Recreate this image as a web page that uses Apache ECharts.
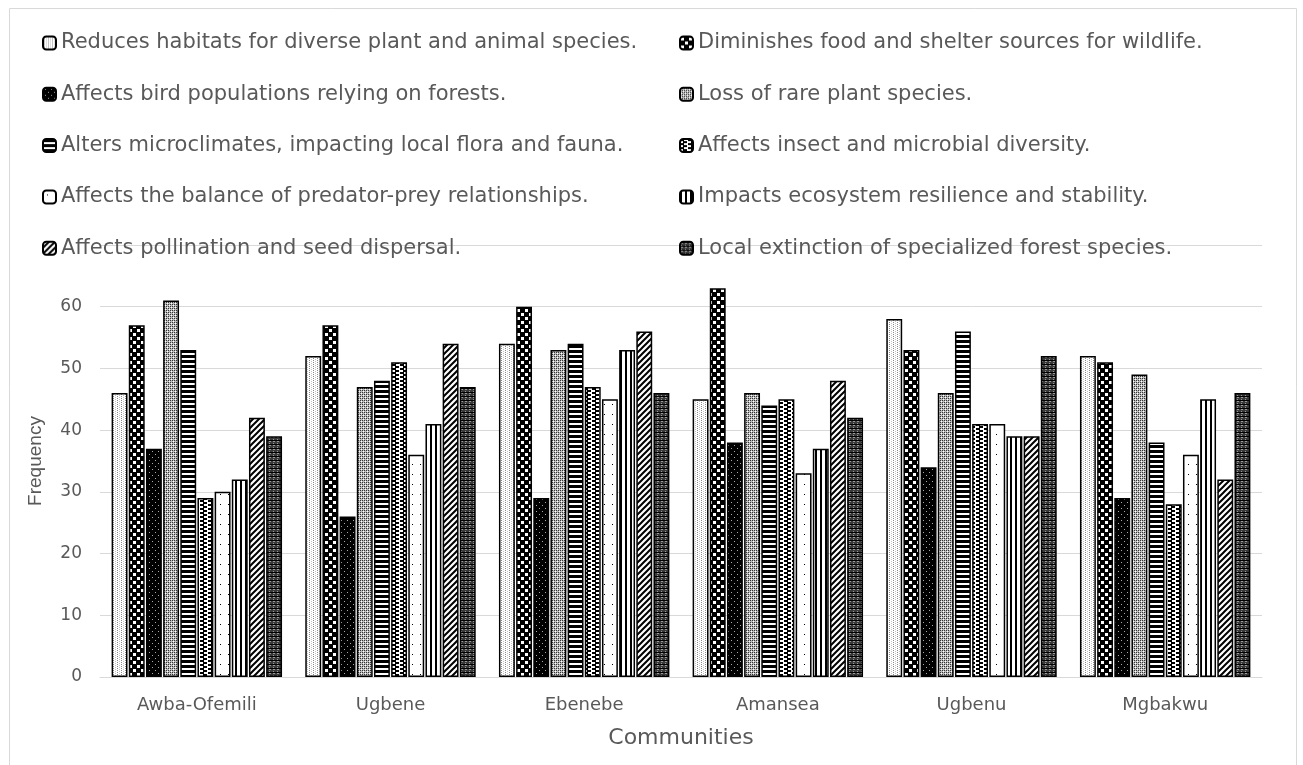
<!DOCTYPE html>
<html>
<head>
<meta charset="utf-8">
<script src="https://cdn.jsdelivr.net/npm/echarts@6/dist/echarts.min.js"></script>
<style>
html,body{margin:0;padding:0;background:#fff;}
#chart{width:1303px;height:765px;}
</style>
</head>
<body>
<div id="chart"></div>
<script>
// ---- data ----
const communities = ['Awba-Ofemili', 'Ugbene', 'Ebenebe', 'Amansea', 'Ugbenu', 'Mgbakwu'];
const seriesNames = [
  'Reduces habitats for diverse plant and animal species.',
  'Diminishes food and shelter sources for wildlife.',
  'Affects bird populations relying on forests.',
  'Loss of rare plant species.',
  'Alters microclimates, impacting local flora and fauna.',
  'Affects insect and microbial diversity.',
  'Affects the balance of predator-prey relationships.',
  'Impacts ecosystem resilience and stability.',
  'Affects pollination and seed dispersal.',
  'Local extinction of specialized forest species.'
];
const reducesHabitats   = [46, 52, 54, 45, 58, 52];
const diminishesFood    = [57, 57, 60, 63, 53, 51];
const birdPopulations   = [37, 26, 29, 38, 34, 29];
const rarePlants        = [61, 47, 53, 46, 46, 49];
const microclimates     = [53, 48, 54, 44, 56, 38];
const insectDiversity   = [29, 51, 47, 45, 41, 28];
const predatorPrey      = [30, 36, 45, 33, 41, 36];
const resilience        = [32, 41, 53, 37, 39, 45];
const pollination       = [42, 54, 56, 48, 39, 32];
const localExtinction   = [39, 47, 46, 42, 52, 46];
const yTicks = [0, 10, 20, 30, 40, 50, 60, 70];

const seriesValues = [reducesHabitats, diminishesFood, birdPopulations, rarePlants, microclimates,
  insectDiversity, predatorPrey, resilience, pollination, localExtinction];

// ---- fill patterns (styling only) ----
function pat(w, h, bg, draw) {
  const c = document.createElement('canvas');
  c.width = w; c.height = h;
  const g = c.getContext('2d');
  g.fillStyle = bg; g.fillRect(0, 0, w, h);
  g.fillStyle = '#000';
  draw(g);
  return { image: c, repeat: 'repeat' };
}
const patterns = [
  // 1 light dotted vertical lines
  pat(4, 4, '#ffffff', g => { g.fillStyle = '#8a8a8a'; g.fillRect(1, 0, 1, 1); g.fillRect(1, 2, 1, 1); g.fillStyle = '#c4c4c4'; g.fillRect(3, 1, 1, 1); g.fillRect(3, 3, 1, 1); }),
  // 2 large checker
  pat(8, 8, '#000000', g => { g.fillStyle = '#fff'; g.fillRect(1, 1, 3, 3); g.fillRect(5, 5, 3, 3); }),
  // 3 dark with small dots
  pat(6, 6, '#000000', g => { g.fillStyle = '#aaa'; g.fillRect(2, 1, 1, 1); g.fillRect(5, 4, 1, 1); }),
  // 4 medium grey texture
  pat(4, 4, '#bdbdbd', g => { g.fillStyle = '#333'; g.fillRect(0, 0, 1, 1); g.fillRect(2, 2, 1, 1); g.fillRect(2, 0, 1, 1); g.fillRect(0, 2, 1, 1); g.fillStyle = '#fff'; g.fillRect(1, 1, 1, 1); g.fillRect(3, 3, 1, 1); }),
  // 5 horizontal stripes
  pat(4, 5, '#ffffff', g => { g.fillRect(0, 0, 4, 3); }),
  // 6 zigzag
  pat(8, 8, '#ffffff', g => { g.fillRect(0, 0, 4, 2); g.fillRect(3, 2, 4, 2); g.fillRect(0, 4, 4, 2); g.fillRect(3, 6, 4, 2); }),
  // 7 white with sparse dots
  pat(8, 10, '#ffffff', g => { g.fillRect(4, 4, 1, 1); }),
  // 8 vertical stripes
  pat(5, 4, '#ffffff', g => { g.fillRect(0, 0, 2, 4); }),
  // 9 diagonal stripes
  pat(6, 6, '#ffffff', g => {
    g.strokeStyle = '#000'; g.lineWidth = 2;
    g.beginPath();
    g.moveTo(-1, 7); g.lineTo(7, -1);
    g.moveTo(-4, 4); g.lineTo(4, -4);
    g.moveTo(2, 10); g.lineTo(10, 2);
    g.stroke();
  }),
  // 10 dark mesh
  pat(4, 4, '#3a3a3a', g => { g.fillStyle = '#9a9a9a'; g.fillRect(1, 1, 2, 1); g.fillRect(1, 3, 1, 1); g.fillStyle = '#000'; g.fillRect(0, 0, 4, 1); })
];

const series = seriesNames.map((name, i) => ({
  name: name,
  type: 'bar',
  data: seriesValues[i],
  barGap: '8%',
  barCategoryGap: '12%',
  itemStyle: { color: patterns[i], borderColor: '#000', borderWidth: 1.5 },
  emphasis: { disabled: true }
}));

const legendText = { color: '#595959', fontSize: 21, fontFamily: 'DejaVu Sans', lineHeight: 22 };
const chart = echarts.init(document.getElementById('chart'), null, { renderer: 'canvas' });
chart.setOption({
  animation: false,
  backgroundColor: '#ffffff',
  textStyle: { fontFamily: 'DejaVu Sans' },
  graphic: [{
    type: 'rect', silent: true, z: -10,
    shape: { x: 9.5, y: 8.5, width: 1287, height: 800 },
    style: { fill: null, stroke: '#d9d9d9', lineWidth: 1 }
  }],
  legend: [
    { left: 37, top: 27, orient: 'vertical', itemGap: 29.3, itemWidth: 13, itemHeight: 13,
      data: [seriesNames[0], seriesNames[2], seriesNames[4], seriesNames[6], seriesNames[8]],
      textStyle: legendText, selectedMode: false },
    { left: 674, top: 27, orient: 'vertical', itemGap: 29.3, itemWidth: 13, itemHeight: 13,
      data: [seriesNames[1], seriesNames[3], seriesNames[5], seriesNames[7], seriesNames[9]],
      textStyle: legendText, selectedMode: false }
  ],
  grid: { left: 100, right: 41, top: 245, bottom: 88, containLabel: false },
  xAxis: {
    type: 'category',
    data: communities,
    axisLine: { lineStyle: { color: '#d9d9d9', width: 1 } },
    axisTick: { show: false },
    axisLabel: { color: '#595959', fontSize: 18, margin: 19, fontFamily: 'DejaVu Sans' },
    name: 'Communities',
    nameLocation: 'middle',
    nameGap: 50,
    nameTextStyle: { color: '#595959', fontSize: 22, fontFamily: 'DejaVu Sans' }
  },
  yAxis: {
    type: 'value',
    min: yTicks[0],
    max: yTicks[yTicks.length - 1],
    interval: 10,
    axisLine: { show: false },
    axisTick: { show: false },
    splitLine: { lineStyle: { color: '#d9d9d9', width: 1 } },
    axisLabel: { color: '#595959', fontSize: 17, margin: 18, fontFamily: 'DejaVu Sans', showMaxLabel: false },
    name: 'Frequency',
    nameLocation: 'middle',
    nameRotate: 90,
    nameGap: 55,
    nameTextStyle: { color: '#595959', fontSize: 19, fontFamily: 'Liberation Sans Narrow, Liberation Sans' }
  },
  series: series
});
</script>
</body>
</html>
